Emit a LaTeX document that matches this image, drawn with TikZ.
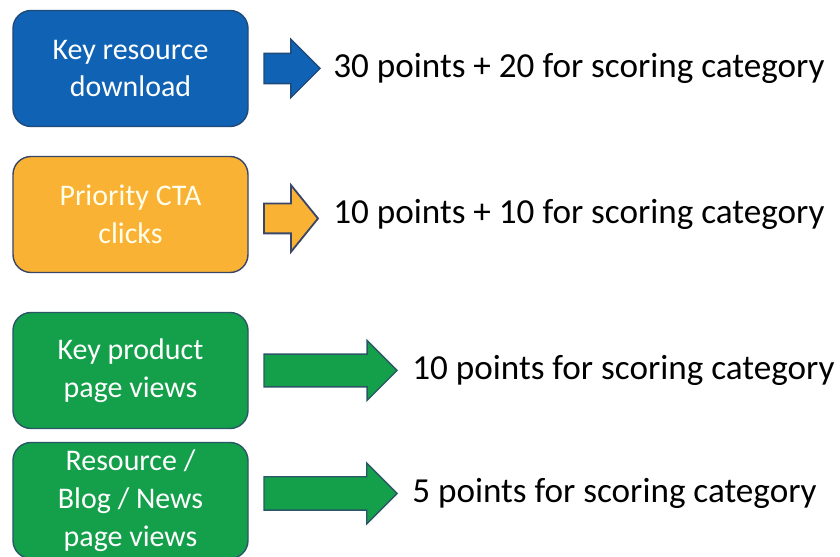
\documentclass[tikz,border=0pt]{standalone}
\usepackage{fontspec}
\setmainfont{Carlito}
\usetikzlibrary{positioning,shapes.arrows}

\definecolor{keyblue}{HTML}{1063B4}
\definecolor{keybluedark}{HTML}{1F4A7A}
\definecolor{ctaorange}{HTML}{F9B233}
\definecolor{ctaline}{HTML}{3A4668}
\definecolor{viewgreen}{HTML}{14A04A}
\definecolor{viewline}{HTML}{2A5766}

\tikzset{
    actbox/.style = {draw, line width=1pt, rounded corners=0.45cm, outer sep=0pt,
        minimum width=5.875cm, minimum height=2.9cm, align=center, text=white,
        font=\fontsize{21.3}{27}\selectfont},
    blockarrow/.style = {shape=single arrow, draw, line width=1pt, inner sep=0.36cm,
        single arrow head extend=0.35cm, outer sep=0pt},
    points/.style = {anchor=west, inner sep=0pt, font=\fontsize{25}{30}\selectfont}
}

\begin{document}
\begin{tikzpicture}
    \useasboundingbox (0,0) rectangle (21,-13.925);

    % the four activity boxes
    \node [actbox, fill=keyblue, draw=keybluedark] (download) at (3.2625,-1.7125) {Key resource\\download};
    \node [actbox, fill=ctaorange, draw=ctaline, text=yellow!8] (cta) [below=0.75cm of download] {Priority CTA\\clicks};
    \node [actbox, fill=viewgreen, draw=viewline] (product) [below=1cm of cta] {Key product\\page views};
    \node [actbox, fill=viewgreen, draw=viewline] (blog) [below=0.35cm of product] {Resource /\\Blog / News\\page views};

    % arrows
    \node [blockarrow, fill=keyblue, draw=keybluedark, minimum height=1.4cm] (arrdownload) [right=0.4cm of download] {};
    \node [blockarrow, fill=ctaorange, draw=ctaline, line width=1.3pt, inner sep=0.35cm, minimum height=1.35cm, single arrow head extend=0.46cm, single arrow tip angle=102] (arrcta) [right=0.4cm of cta, yshift=-0.1cm] {};
    \node [blockarrow, fill=viewgreen, draw=viewline, inner sep=0.39cm, single arrow head extend=0.34cm, minimum height=3.325cm] (arrproduct) [right=0.4cm of product] {};
    \node [blockarrow, fill=viewgreen, draw=viewline, inner sep=0.4cm, single arrow head extend=0.34cm, minimum height=3.325cm] (arrblog) [right=0.4cm of blog, yshift=0.175cm] {};

    % scores
    \node [points] (scoredownload) [right=0.325cm of arrdownload] {30 points + 20 for scoring category};
    \node [points] (scorecta) [right=0.375cm of arrcta, yshift=0.1cm] {10 points + 10 for scoring category};
    \node [points] (scoreproduct) [right=0.375cm of arrproduct] {10 points for scoring category};
    \node [points] (scoreblog) [right=0.375cm of arrblog] {5 points for scoring category};
\end{tikzpicture}
\end{document}
